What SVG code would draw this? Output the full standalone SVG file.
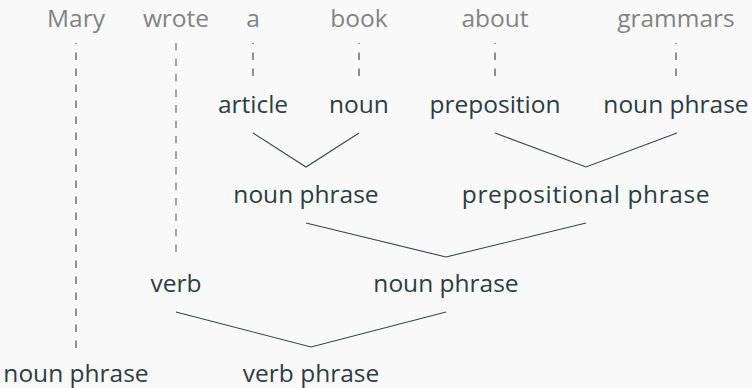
<svg xmlns="http://www.w3.org/2000/svg" width="752" height="388" viewBox="0 0 752 388">
<style>
text{font-family:"Open Sans","Noto Sans",sans-serif;font-size:24.5px;text-anchor:middle}
.w{fill:#838383}
.n{fill:#2c3d43}
.c{stroke:#34464d;stroke-width:1.1;fill:none}
.d{stroke:#2c3d43;stroke-width:1.1;stroke-dasharray:7.5 8.5;stroke-dashoffset:6.5;fill:none}
.g{stroke:#8a9597;stroke-width:1.6;stroke-dasharray:7.5 8;fill:none}
</style>
<rect width="752" height="388" fill="#f9f9f9"/>
<g id="words">
<text class="w" x="76" y="26.5">Mary</text>
<text class="w" x="176" y="26.5">wrote</text>
<text class="w" x="253" y="26.5">a</text>
<text class="w" x="359" y="26.5">book</text>
<text class="w" x="495" y="26.5">about</text>
<text class="w" x="676" y="26.5">grammars</text>
</g>
<g id="connectors">
<line class="d" x1="76" y1="43" x2="76" y2="348"/>
<line class="g" x1="176" y1="43" x2="176" y2="259"/>
<line class="d" x1="253" y1="43" x2="253" y2="77"/>
<line class="d" x1="359" y1="43" x2="359" y2="77"/>
<line class="d" x1="495" y1="43" x2="495" y2="77"/>
<line class="d" x1="676" y1="43" x2="676" y2="77"/>
<polyline class="c" points="253,133 306,167 359,133"/>
<polyline class="c" points="495,133 586,167 677,133"/>
<polyline class="c" points="306,223 446,257 586,223"/>
<polyline class="c" points="176,312 311,347 446,312"/>
</g>
<g id="article"><text class="n" x="253" y="113">article</text></g>
<g id="noun"><text class="n" x="359" y="113">noun</text></g>
<g id="preposition"><text class="n" x="495" y="113">preposition</text></g>
<g id="np-grammars"><text class="n" x="676" y="113">noun phrase</text></g>
<g id="np-book"><text class="n" x="306" y="202.7">noun phrase</text></g>
<g id="pp"><text class="n" x="586" y="202.7" letter-spacing="0.6">prepositional phrase</text></g>
<g id="verb"><text class="n" x="176" y="292.3">verb</text></g>
<g id="np-object"><text class="n" x="446" y="292.3">noun phrase</text></g>
<g id="np-subject"><text class="n" x="76" y="382">noun phrase</text></g>
<g id="vp"><text class="n" x="311" y="382">verb phrase</text></g>
</svg>
